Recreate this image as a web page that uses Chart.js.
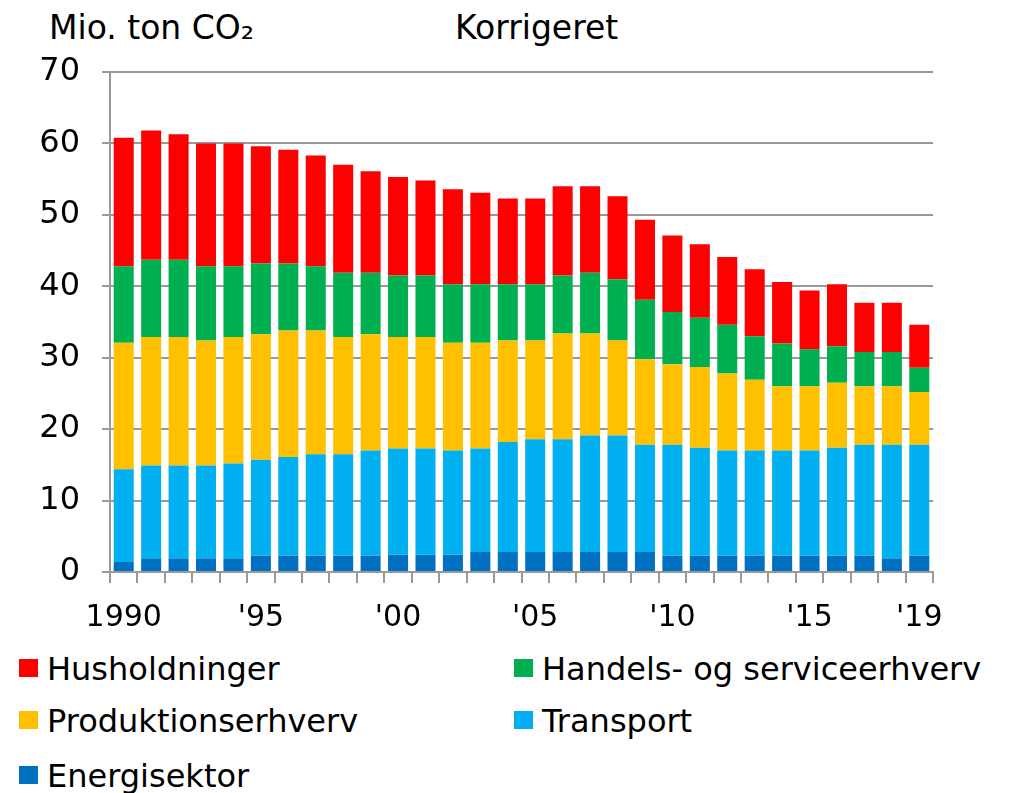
<!DOCTYPE html>
<html>
<head>
<meta charset="utf-8">
<script src="https://cdn.jsdelivr.net/npm/chart.js@4/dist/chart.umd.min.js"></script>
<style>
  html, body { margin: 0; padding: 0; background: #fff; }
  body { width: 1023px; height: 793px; position: relative; overflow: hidden; font-family: "DejaVu Sans", Verdana, sans-serif; color: #000; }
  #wrap { position: absolute; left: 0; top: 0; width: 1023px; height: 650px; }
  .label { position: absolute; font-size: 33px; line-height: 1; white-space: nowrap; }
  .legend-item { position: absolute; font-size: 32px; line-height: 1; white-space: nowrap; }
  .legend-item span.box { position: absolute; left: -28px; top: 6px; width: 19px; height: 18px; }
</style>
</head>
<body>
<div class="label" style="left:49px; top:11px;">Mio. ton CO₂</div>
<div class="label" style="left:455px; top:11px;">Korrigeret</div>
<div id="wrap"><canvas id="co2Chart" width="1023" height="650"></canvas></div>
<div id="legend"></div>

<script>
// Udledning fordelt på sektorer, mio. ton CO2 (korrigeret)
const years = [1990, 1991, 1992, 1993, 1994, 1995, 1996, 1997, 1998, 1999,
  2000, 2001, 2002, 2003, 2004, 2005, 2006, 2007, 2008, 2009,
  2010, 2011, 2012, 2013, 2014, 2015, 2016, 2017, 2018, 2019];
const tickLabels = ["1990", "", "", "", "", "'95", "", "", "", "",
  "'00", "", "", "", "", "'05", "", "", "", "",
  "'10", "", "", "", "", "'15", "", "", "", "'19"];

const energisektor = [1.4, 1.9, 1.9, 1.9, 1.9, 2.3, 2.3, 2.3, 2.3, 2.3,
  2.4, 2.4, 2.4, 2.8, 2.8, 2.8, 2.8, 2.8, 2.8, 2.8,
  2.3, 2.3, 2.3, 2.3, 2.3, 2.3, 2.3, 2.3, 1.9, 2.3];
const transport = [13.0, 13.0, 13.0, 13.0, 13.3, 13.4, 13.8, 14.2, 14.2, 14.7,
  14.9, 14.9, 14.6, 14.5, 15.4, 15.8, 15.8, 16.3, 16.3, 15.0,
  15.5, 15.1, 14.7, 14.7, 14.7, 14.7, 15.1, 15.5, 15.9, 15.5];
const produktion = [17.7, 18.0, 18.0, 17.5, 17.7, 17.6, 17.7, 17.3, 16.4, 16.3,
  15.6, 15.6, 15.1, 14.8, 14.2, 13.8, 14.8, 14.3, 13.3, 12.0,
  11.3, 11.3, 10.8, 9.9, 9.0, 9.0, 9.1, 8.2, 8.2, 7.4];
const handel = [10.7, 10.8, 10.8, 10.4, 9.9, 9.9, 9.4, 9.0, 9.0, 8.6,
  8.6, 8.6, 8.2, 8.2, 7.9, 7.9, 8.1, 8.5, 8.6, 8.3,
  7.3, 6.9, 6.8, 6.1, 6.0, 5.2, 5.1, 4.8, 4.8, 3.4];
const husholdninger = [18.0, 18.1, 17.6, 17.2, 17.2, 16.4, 15.9, 15.5, 15.1, 14.2,
  13.8, 13.3, 13.3, 12.8, 12.0, 12.0, 12.5, 12.1, 11.6, 11.2,
  10.7, 10.3, 9.5, 9.4, 8.6, 8.2, 8.7, 6.9, 6.9, 6.0];

const gridColor = "#999999";

// stacked bottom to top
const series = [
  { label: "Energisektor", data: energisektor, color: "#0070C0" },
  { label: "Transport", data: transport, color: "#00B0F0" },
  { label: "Produktionserhverv", data: produktion, color: "#FFC000" },
  { label: "Handels- og serviceerhverv", data: handel, color: "#00B050" },
  { label: "Husholdninger", data: husholdninger, color: "#FF0000" }
];

new Chart(document.getElementById("co2Chart"), {
  type: "bar",
  data: {
    labels: years,
    datasets: series.map(s => ({
      label: s.label,
      data: s.data,
      backgroundColor: s.color,
      borderWidth: 0,
      barPercentage: 0.73,
      categoryPercentage: 1
    }))
  },
  options: {
    responsive: false,
    animation: false,
    layout: { padding: { left: 0, right: 90, top: 72, bottom: 0 } },
    plugins: {
      legend: { display: false },
      tooltip: { enabled: false }
    },
    scales: {
      x: {
        stacked: true,
        afterFit: scale => { scale.height = 78; },
        grid: {
          offset: true,
          drawOnChartArea: false,
          drawTicks: true,
          tickLength: 11,
          color: gridColor,
          lineWidth: 2
        },
        border: { display: true, color: gridColor, width: 2 },
        ticks: {
          autoSkip: false,
          maxRotation: 0,
          padding: 17,
          color: "#000",
          font: { family: "DejaVu Sans", size: 30 },
          callback: (v, i) => tickLabels[i]
        }
      },
      y: {
        stacked: true,
        min: 0,
        max: 70,
        afterFit: scale => { scale.width = 110; },
        grid: {
          color: gridColor,
          lineWidth: 2,
          tickLength: 8
        },
        border: { display: true, color: gridColor, width: 2 },
        ticks: {
          stepSize: 10,
          padding: 22,
          color: "#000",
          font: { family: "DejaVu Sans", size: 32 }
        }
      }
    }
  }
});

// legend in two columns, same order as the figure
const legendLayout = [
  { idx: 4, left: 47, top: 653 },
  { idx: 3, left: 542, top: 653 },
  { idx: 2, left: 47, top: 705 },
  { idx: 1, left: 542, top: 705 },
  { idx: 0, left: 47, top: 760 }
];
const legendEl = document.getElementById("legend");
legendLayout.forEach(item => {
  const s = series[item.idx];
  const div = document.createElement("div");
  div.className = "legend-item";
  div.style.left = item.left + "px";
  div.style.top = item.top + "px";
  div.innerHTML = `<span class="box" style="background:${s.color}"></span>${s.label}`;
  legendEl.appendChild(div);
});
</script>
</body>
</html>
